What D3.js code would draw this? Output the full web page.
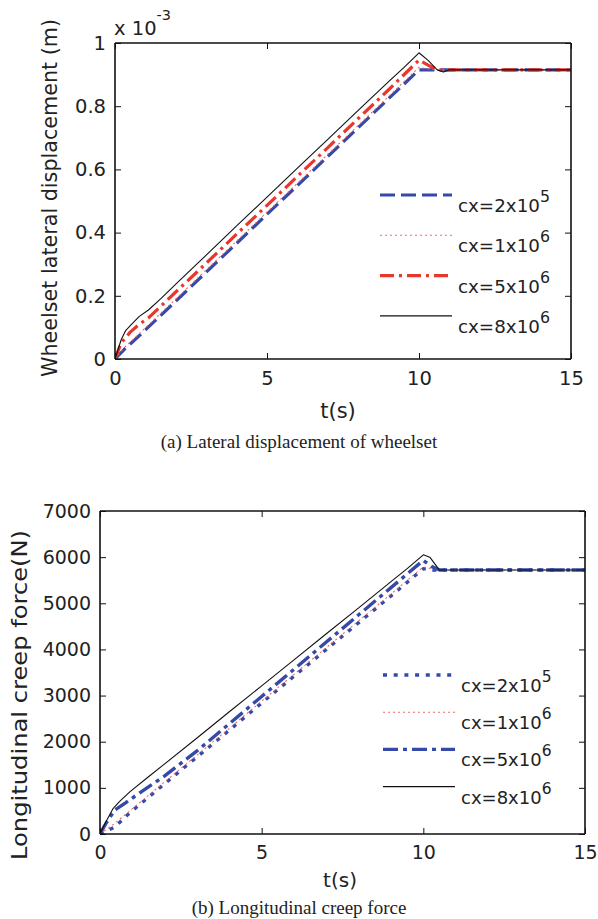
<!DOCTYPE html>
<html><head><meta charset="utf-8">
<script src="https://cdn.jsdelivr.net/npm/d3@7"></script>
<style>
body{margin:0;background:#fff;}
svg{display:block;}
text{font-family:"DejaVu Sans",Verdana,sans-serif;fill:#222;}
.cap{font-family:"Liberation Serif","Times New Roman",serif;}
</style></head>
<body>
<svg id="c" width="598" height="919"></svg>
<script>
// ---------- Panel (a): wheelset lateral displacement (x 10^-3 m) ----------
const xTicks = [0, 5, 10, 15];
const yTicksA = [0, 0.2, 0.4, 0.6, 0.8, 1];
const yTickLabelsA = ["0", "0.2", "0.4", "0.6", "0.8", "1"];
const legendA = ["2x10|5", "1x10|6", "5x10|6", "8x10|6"];

const tA_2e5 = [0, 0.3, 0.6, 1, 2, 3, 4, 5, 6, 7, 8, 9, 10, 10.4, 11, 12, 13, 14, 15];
const vA_2e5 = [0, 0.03, 0.056, 0.092, 0.183, 0.275, 0.366, 0.458, 0.549, 0.641, 0.732, 0.824, 0.915, 0.915, 0.915, 0.915, 0.915, 0.915, 0.915];
const tA_1e6 = [0, 0.3, 0.6, 1, 2, 3, 4, 5, 6, 7, 8, 9, 10, 10.3, 10.6, 11, 12, 13, 14, 15];
const vA_1e6 = [0, 0.036, 0.062, 0.099, 0.19, 0.282, 0.373, 0.465, 0.556, 0.648, 0.739, 0.831, 0.923, 0.918, 0.915, 0.915, 0.915, 0.915, 0.915, 0.915];
const tA_5e6 = [0, 0.2, 0.5, 0.8, 1.1, 2, 3, 4, 5, 6, 7, 8, 9, 10, 10.3, 10.6, 11, 12, 13, 14, 15];
const vA_5e6 = [0, 0.05, 0.085, 0.11, 0.13, 0.212, 0.303, 0.395, 0.486, 0.578, 0.669, 0.761, 0.852, 0.946, 0.93, 0.915, 0.915, 0.915, 0.915, 0.915, 0.915];
const tA_8e6 = [0, 0.1, 0.2, 0.35, 0.55, 0.8, 1.1, 1.5, 2, 3, 4, 5, 6, 7, 8, 9, 9.5, 10, 10.3, 10.6, 10.8, 11, 12, 13, 14, 15];
const vA_8e6 = [0, 0.03, 0.06, 0.09, 0.11, 0.135, 0.155, 0.19, 0.237, 0.329, 0.421, 0.512, 0.604, 0.695, 0.787, 0.878, 0.922, 0.969, 0.945, 0.915, 0.908, 0.915, 0.915, 0.915, 0.915, 0.915];

// ---------- Panel (b): longitudinal creep force (N) ----------
const yTicksB = [0, 1000, 2000, 3000, 4000, 5000, 6000, 7000];
const legendB = ["2x10|5", "1x10|6", "5x10|6", "8x10|6"];

const tB_2e5 = [0, 0.46, 0.83, 1, 2, 3, 4, 5, 6, 7, 8, 9, 10, 10.3, 11, 12, 13, 14, 15];
const vB_2e5 = [0, 150, 400, 505, 1090, 1670, 2250, 2840, 3420, 4000, 4580, 5160, 5750, 5720, 5720, 5720, 5720, 5720, 5720];
const tB_1e6 = [0, 0.4, 0.83, 1, 2, 3, 4, 5, 6, 7, 8, 9, 10, 10.3, 10.5, 11, 12, 13, 14, 15];
const vB_1e6 = [0, 200, 448, 547, 1130, 1710, 2290, 2880, 3460, 4040, 4620, 5200, 5790, 5740, 5720, 5720, 5720, 5720, 5720, 5720];
const tB_5e6 = [0, 0.2, 0.46, 0.8, 1, 2, 3, 4, 5, 6, 7, 8, 9, 10, 10.25, 10.5, 11, 12, 13, 14, 15];
const vB_5e6 = [0, 250, 520, 680, 780, 1260, 1800, 2390, 2980, 3570, 4160, 4750, 5340, 5930, 5800, 5720, 5720, 5720, 5720, 5720, 5720];
const tB_8e6 = [0, 0.1, 0.25, 0.41, 0.6, 0.93, 1.5, 2, 3, 4, 5, 6, 7, 8, 9, 9.5, 10, 10.2, 10.5, 11, 12, 13, 14, 15];
const vB_8e6 = [0, 150, 350, 557, 700, 917, 1240, 1520, 2080, 2650, 3210, 3775, 4340, 4900, 5470, 5750, 6050, 6000, 5720, 5720, 5720, 5720, 5720, 5720];

const BLUE = "#3549a8", RED = "#e8372c", LRED = "#ee6a5e", BLACK = "#111";
const FONT = "DejaVu Sans, Verdana, sans-serif";

const svg = d3.select("#c");

function zip(t, v) { return t.map((d, i) => ({t: d, v: v[i]})); }

function panel(o) {
  const x = d3.scaleLinear().domain([0, 15]).range([o.left, o.right]);
  const y = d3.scaleLinear().domain(o.yDomain).range([o.bottom, o.top]);
  const g = svg.append("g");
  const cid = "clip" + o.id;
  svg.append("clipPath").attr("id", cid).append("rect")
    .attr("x", o.left).attr("y", o.top - 4).attr("width", o.right - o.left + 12).attr("height", o.bottom - o.top + 8);

  const line = d3.line().x(d => x(d.t)).y(d => y(d.v));
  o.series.forEach(s => {
    g.append("path").datum(zip(s.t, s.v)).attr("d", line)
      .attr("fill", "none").attr("stroke", s.color).attr("stroke-width", s.w)
      .attr("stroke-dasharray", s.dash || null).attr("stroke-linejoin", "round")
      .attr("clip-path", `url(#${cid})`);
  });

  const tl = 6;
  const ax = g.append("g").attr("transform", `translate(0,${o.bottom})`)
    .call(d3.axisBottom(x).tickValues(xTicks).tickSize(-tl).tickPadding(12).tickFormat(d3.format("d")));
  const axT = g.append("g").attr("transform", `translate(0,${o.top})`)
    .call(d3.axisTop(x).tickValues(xTicks).tickSize(-tl).tickFormat(""));
  const ay = g.append("g").attr("transform", `translate(${o.left},0)`)
    .call(d3.axisLeft(y).tickValues(o.yTicks).tickSize(-tl).tickPadding(9).tickFormat((d, i) => o.yLabels[i]));
  const ayR = g.append("g").attr("transform", `translate(${o.right},0)`)
    .call(d3.axisRight(y).tickValues(o.yTicks).tickSize(-tl).tickFormat(""));
  [ax, axT, ay, ayR].forEach(a => {
    a.select(".domain").attr("stroke", "#111").attr("stroke-width", 1.6);
    a.selectAll(".tick line").attr("stroke", "#111").attr("stroke-width", 1);
    a.selectAll(".tick text").attr("font-size", o.fs).attr("font-family", FONT).attr("fill", "#222");
  });
  ax.selectAll(".domain").attr("d", `M${o.left},0H${o.right}`);
  axT.selectAll(".domain").attr("d", `M${o.left},0H${o.right}`);
  ay.selectAll(".domain").attr("d", `M0,${o.bottom}V${o.top}`);
  ayR.selectAll(".domain").attr("d", `M0,${o.bottom}V${o.top}`);

  g.append("text").attr("x", o.xLabelX).attr("y", o.xLabelY)
    .attr("text-anchor", "middle").attr("font-size", o.tfs).text("t(s)");
  g.append("text").attr("transform", `translate(${o.yLabelX},${o.yLabelCY}) rotate(-90)`)
    .attr("text-anchor", "middle").attr("font-size", o.yfs)
    .attr("textLength", o.yLen).attr("lengthAdjust", "spacingAndGlyphs").text(o.yTitle);
  g.append("text").attr("class", "cap").attr("x", 299).attr("y", o.capY)
    .attr("text-anchor", "middle").attr("font-size", 19).text(o.caption);

  o.series.forEach((s, i) => {
    const ly = o.legY + i * o.legStep;
    g.append("line").attr("x1", o.legX1).attr("x2", o.legX2).attr("y1", ly).attr("y2", ly)
      .attr("stroke", s.color).attr("stroke-width", s.w).attr("stroke-dasharray", s.dash || null);
    const parts = o.legend[i].split("|");
    const t = g.append("text").attr("x", o.legX2 + 6).attr("y", ly + 17).attr("font-size", o.lfs);
    t.append("tspan").text("cx=" + parts[0]);
    t.append("tspan").attr("dy", -10).attr("font-size", o.lfs - 2.5).text(parts[1]);
  });
  return {x, y, g};
}

const pA = panel({
  id: "a", left: 115, right: 571, top: 43, bottom: 359, yDomain: [0, 1],
  yTicks: yTicksA, yLabels: yTickLabelsA, fs: 19.5, tfs: 21, yfs: 20.5, yLen: 358, lfs: 18.3,
  xLabelX: 338, xLabelY: 418, yLabelX: 57, yLabelCY: 198, capY: 448,
  yTitle: "Wheelset lateral displacement (m)", caption: "(a) Lateral displacement of wheelset",
  legend: legendA, legX1: 380, legX2: 452, legY: 195, legStep: 40.3,
  series: [
    {t: tA_2e5, v: vA_2e5, color: BLUE, w: 3.2, dash: "15,6"},
    {t: tA_1e6, v: vA_1e6, color: LRED, w: 1.1, dash: "2,3"},
    {t: tA_5e6, v: vA_5e6, color: RED, w: 3.2, dash: "14,5,3,5"},
    {t: tA_8e6, v: vA_8e6, color: BLACK, w: 1.1}
  ]
});
const mult = pA.g.append("text").attr("x", 114).attr("y", 35).attr("font-size", 19.5);
mult.append("tspan").text("x 10");
mult.append("tspan").attr("dy", -15).attr("font-size", 14.5).text("-3");

panel({
  id: "b", left: 100, right: 585, top: 511, bottom: 834, yDomain: [0, 7000],
  yTicks: yTicksB, yLabels: yTicksB.map(String), fs: 19, tfs: 20, yfs: 22, yLen: 330, lfs: 18,
  xLabelX: 340, xLabelY: 887, yLabelX: 27, yLabelCY: 695, capY: 914,
  yTitle: "Longitudinal creep force(N)", caption: "(b) Longitudinal creep force",
  legend: legendB, legX1: 383, legX2: 455, legY: 675, legStep: 37.2,
  series: [
    {t: tB_2e5, v: vB_2e5, color: BLUE, w: 3.4, dash: "4,6.7"},
    {t: tB_1e6, v: vB_1e6, color: LRED, w: 1.1, dash: "2,3"},
    {t: tB_5e6, v: vB_5e6, color: BLUE, w: 3.4, dash: "15,5,4,5"},
    {t: tB_8e6, v: vB_8e6, color: BLACK, w: 1.1}
  ]
});
</script>
</body></html>
